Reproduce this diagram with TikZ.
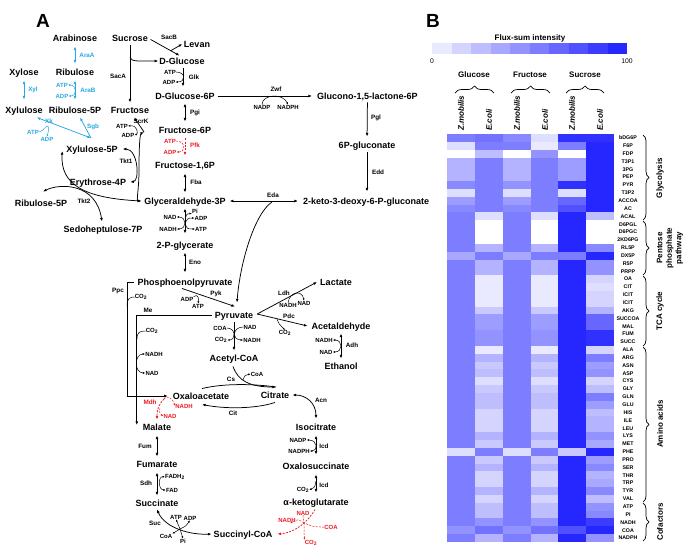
\documentclass[tikz,border=0pt]{standalone}
\usepackage{fontspec}
\setmainfont{Liberation Sans}
\usetikzlibrary{arrows.meta,calc,decorations.pathreplacing}
\definecolor{aq}{RGB}{41,168,224}
\definecolor{rd}{RGB}{236,28,36}
\definecolor{hb}{RGB}{38,38,255}
\begin{document}
\begin{tikzpicture}[x=1pt,y=-1pt,
 met/.style={font=\fontsize{9}{10}\selectfont\bfseries,inner sep=0pt,text height=6.5pt,text depth=0pt},
 enz/.style={font=\fontsize{6.3}{8}\selectfont\bfseries,inner sep=0pt},
 cof/.style={font=\fontsize{6}{7}\selectfont\bfseries,inner sep=0pt},
 rxn/.style={line width=0.75pt},
 fw/.style={rxn,-{Latex[length=3.6pt,width=2.8pt]}},
 bw/.style={rxn,{Latex[length=3.6pt,width=2.8pt]}-{Latex[length=3.6pt,width=2.8pt]}},
 sfw/.style={line width=0.5pt,-{Latex[length=2.4pt,width=2pt]}},
 sbw/.style={line width=0.5pt,{Latex[length=2.4pt,width=2pt]}-{Latex[length=2.4pt,width=2pt]}},
 sln/.style={line width=0.5pt},
 dsh/.style={dash pattern=on 2pt off 1.3pt},
 rowl/.style={font=\fontsize{5.3}{6}\selectfont\bfseries,inner sep=0pt},
 grp/.style={font=\fontsize{8}{9.5}\selectfont\bfseries,inner sep=0pt},
 colh/.style={font=\fontsize{8}{9}\selectfont\bfseries\itshape,inner sep=0pt},
 brc/.style={decorate,decoration={brace,amplitude=#1},line width=0.7pt},
 big/.style={font=\fontsize{19}{20}\selectfont\bfseries,inner sep=0pt}
]
\useasboundingbox (0,0) rectangle (685,547);
\fill[white] (0,0) rectangle (685,547);

%% ---------------- Panel A ----------------
\node[big] (labA) at (43,21) {A};

% pentose (blue) part
\node[met] (arab) at (75,38) {Arabinose};
\node[met] (rib) at (75,72) {Ribulose};
\node[met] (xyl) at (24,72) {Xylose};
\node[met] (xylu) at (24,110) {Xylulose};
\node[met] (ru5p) at (75,110) {Ribulose-5P};
\node[enz,aq] (araA) at (87,55) {AraA};
\node[enz,aq] (eXyl) at (33,90) {Xyl};
\node[enz,aq] (araB) at (88,90) {AraB};
\node[cof,aq] (atpB) at (62,85) {ATP};
\node[cof,aq] (adpB) at (62,96) {ADP};
\node[enz,aq] (xk) at (49,121) {Xk};
\node[cof,aq] (atpX) at (33,132) {ATP};
\node[cof,aq] (adpX) at (47,139) {ADP};
\node[enz,aq] (sgb) at (93,127) {Sgb};
\draw[bw,aq,shorten <=5pt,shorten >=5pt] (arab.south) -- (rib.north);
\draw[bw,aq,shorten <=5pt,shorten >=7pt] (xyl.south) -- (xylu.north);
\draw[bw,aq,shorten <=5pt,shorten >=7pt] (rib.south) -- (ru5p.north);
\draw[sbw,aq] (atpB.east) .. controls (77,85) and (77,96) .. (adpB.east);
\coordinate (xj) at (91,138);
\draw[bw,aq] ($(xylu.south east)+(-6,4)$) -- (xj);
\draw[fw,aq] (xj) -- ($(ru5p.south)+(5,4)$);
\draw[sfw,aq] (atpX.east) .. controls (44,131) and (46,125) .. (48,126) .. controls (49,129) .. (adpX.north);

% sucrose part
\node[met] (suc) at (130,38) {Sucrose};
\node[met] (lev) at (197,44) {Levan};
\node[met] (dglc) at (182,61) {D-Glucose};
\node[met] (fru) at (130,110) {Fructose};
\node[enz] (sacA) at (118,76) {SacA};
\node[enz] (sacB) at (169,37) {SacB};
\draw[fw,shorten <=4pt,shorten >=4pt] (suc.south) -- (fru.north);
\draw[fw] ($(suc.south)+(0,16)$) .. controls (131,62) and (140,61) .. ($(dglc.west)+(-1,0)$);
\draw[fw,shorten <=3pt,shorten >=4pt] (suc.east) -- ($(dglc.north)+(1,0)$);
\draw[fw] ($(suc.east)!0.66!(dglc.north)$) -- ($(lev.west)+(-1.5,0)$);

% glycolysis column
\node[met] (g6p) at (185,96) {D-Glucose-6P};
\node[cof] (atpG) at (170,72) {ATP};
\node[cof] (adpG) at (169,82) {ADP};
\node[enz] (glk) at (194,77) {Glk};
\draw[fw,shorten <=4pt,shorten >=6pt] ($(dglc.south)+(1,0)$) -- ($(g6p.north)+(-2,0)$);
\draw[sfw] (atpG.east) .. controls (186,72) and (186,82) .. (adpG.east);

\node[met,anchor=west] (glac) at (317,96) {Glucono-1,5-lactone-6P};
\draw[fw,shorten <=3pt,shorten >=5pt] (g6p.east) -- (glac.west);
\node[enz] (zwf) at (276,89) {Zwf};
\node[cof] (nadpZ) at (262,107) {NADP};
\node[cof] (nadphZ) at (288,107) {NADPH};
\draw[sfw] (nadpZ.north) .. controls (262,94) and (283,93) .. (nadphZ.north);

\node[met] (f6p) at (185,130) {Fructose-6P};
\node[enz] (pgi) at (195,113) {Pgi};
\draw[bw,shorten <=4pt,shorten >=5pt] (g6p.south) -- (f6p.north);

\node[met] (pg6) at (367,145) {6P-gluconate};
\draw[fw,shorten <=3pt,shorten >=5pt] (glac.south) -- (pg6.north);
\node[enz] (pgl) at (376,118) {Pgl};
\node[met,anchor=west] (kdpg) at (303,201) {2-keto-3-deoxy-6-P-gluconate};
\draw[fw,shorten <=4pt,shorten >=6pt] (pg6.south) -- (pg6.south |- kdpg.north);
\node[enz] (edd) at (378,172) {Edd};

\node[met] (f16p) at (185,165) {Fructose-1,6P};
\draw[fw,rd,dsh,shorten <=5pt,shorten >=6pt] (f6p.south) -- (f16p.north);
\node[cof,rd] (atpP) at (170,141) {ATP};
\node[cof,rd] (adpP) at (170,152) {ADP};
\node[enz,rd] (pfk) at (195,145) {Pfk};
\draw[sfw,rd,dsh] (atpP.east) .. controls (186,141) and (186,152) .. (adpP.east);

\node[met] (gap) at (185,201) {Glyceraldehyde-3P};
\draw[bw,shorten <=5pt,shorten >=5pt] (f16p.south) -- (gap.north);
\node[enz] (fba) at (196,182) {Fba};

\node[met] (p2g) at (185,245) {2-P-glycerate};
\draw[bw,shorten <=4pt,shorten >=8pt] (gap.south) -- (p2g.north);
\coordinate (gj) at (185,223);
\node[cof] (nadG) at (170,217) {NAD};
\node[cof] (nadhG) at (168,229) {NADH};
\node[cof] (piG) at (195,211) {Pi};
\node[cof] (adpGa) at (201,218) {ADP};
\node[cof] (atpGa) at (201,229) {ATP};
\draw[sbw] (nadG.east) .. controls (187,217) and (187,229) .. (nadhG.east);
\draw[sfw] (gj) .. controls (186,214) .. (piG.south west);
\draw[sfw] (gj) .. controls (188,218) .. (adpGa.west);
\draw[sfw] (gj) .. controls (187,229) .. (atpGa.west);

\node[met] (pep) at (185,282) {Phosphoenolpyruvate};
\draw[bw,shorten <=4pt,shorten >=6pt] (p2g.south) -- (pep.north);
\node[enz] (eno) at (195,262) {Eno};

% pentose phosphate / transketolase
\node[met] (x5p) at (92,149) {Xylulose-5P};
\node[met] (e4p) at (98,182) {Erythrose-4P};
\node[met] (ru5pb) at (41,203) {Ribulose-5P};
\node[met] (s7p) at (103,229) {Sedoheptulose-7P};
\node[enz] (tkt1) at (126,161) {Tkt1};
\node[enz] (tkt2) at (84,201) {Tkt2};
\coordinate (jf) at (144,132);
\coordinate (jg) at ($(gap.west)+(-3,0)$);
\draw[bw] ($(x5p.east)+(5,0)$) .. controls (138,149) and (140,181) .. ($(e4p.east)+(4,0)$);
\draw[bw] (jg) .. controls (136,201) and (139,190) .. (139,170) .. controls (139,145) and (140,134) .. (jf);
\draw[bw] ($(x5p.west)+(-4,2)$) .. controls (60,185) and (85,198) .. (jg);
\draw[bw] ($(ru5pb.north)+(2,-8)$) .. controls (60,183) and (96,183) .. ($(s7p.north)+(-1,-4)$);
\draw[fw] (jf) -- ($(fru.south east)+(-15,4)$);
\node[enz] (scrk) at (141,121) {ScrK};
\node[cof] (atpS) at (122,126) {ATP};
\node[cof] (adpS) at (128,135) {ADP};
\draw[sbw] (atpS.east) .. controls (138,125) and (138,134) .. (adpS.east);

% lower part
\node[met] (pyr) at (234,315) {Pyruvate};
\draw[fw] ($(pep.south)+(-3,3)$) -- ($(pyr.north)+(1,-5)$);
\node[enz] (pyk) at (216,294) {Pyk};
\node[cof] (adpK) at (187,299) {ADP};
\node[cof] (atpK) at (198,306) {ATP};
\draw[sfw] (adpK.north east) .. controls (198,293) and (199,299) .. (atpK.north);

\draw[bw,shorten <=4pt,shorten >=5pt] (gap.east) -- (kdpg.west);
\node[enz] (eda) at (273,195) {Eda};
\coordinate (ej) at (272,202);
\draw[fw] (ej) .. controls (255,213) and (240,262) .. ($(pyr.north)+(3,-9)$);

\node[met] (oaa) at (201,396) {Oxaloacetate};
\draw[fw] ($(pep.west)+(-4,0)$) -- (127,282) |- ($(oaa.west)+(-5,0)$);
\node[enz] (ppc) at (118,291) {Ppc};
\node[cof] (co2P) at (141,297) {CO\textsubscript{2}};
\draw[sln] (127,306) .. controls (127,298) and (130,297) .. (co2P.west);

\node[met] (mal) at (157,427) {Malate};
\draw[fw] ($(pyr.west)+(-3,0)$) -| ($(mal.west)+(-6,-2)$);
\node[enz] (me) at (148,310) {Me};
\node[cof] (co2M) at (152,331) {CO\textsubscript{2}};
\draw[sln] (137,339) .. controls (137,332) and (140,331) .. (co2M.west);
\node[cof] (nadhM) at (154,354) {NADH};
\node[cof] (nadM) at (152,373) {NAD};
\draw[sbw] (nadhM.west) .. controls (134,354) and (134,373) .. (nadM.west);

\node[met] (lac) at (336,282) {Lactate};
\node[met] (acald) at (341,326) {Acetaldehyde};
\node[met] (etoh) at (341,366) {Ethanol};
\coordinate (pj) at ($(pyr.east)+(4,-1)$);
\draw[fw] (pj) -- ($(lac.west)+(-3,0)$);
\draw[fw] (pj) -- ($(acald.west)+(-4,0)$);
\node[enz] (ldh) at (284,293) {Ldh};
\node[cof] (nadhL) at (288,305) {NADH};
\node[cof] (nadL) at (304,303) {NAD};
\draw[sfw] (nadhL.north) .. controls (290,291) and (302,290) .. (nadL.north);
\node[enz] (pdc) at (289,316) {Pdc};
\node[cof] (co2D) at (285,333) {CO\textsubscript{2}};
\draw[sfw] (277,319) .. controls (279,324) .. (co2D.north);
\draw[bw,shorten <=4pt,shorten >=4pt] (acald.south) -- (etoh.north);
\node[cof] (nadhA) at (324,340) {NADH};
\node[cof] (nadA) at (326,352) {NAD};
\draw[sbw] (nadhA.east) .. controls (343,340) and (343,352) .. (nadA.east);
\node[enz] (adh) at (352,345) {Adh};

\node[met] (accoa) at (234,358) {Acetyl-CoA};
\draw[fw,shorten <=4pt,shorten >=4pt] (pyr.south) -- (accoa.north);
\node[cof] (coaP) at (220,328) {COA};
\node[cof] (co2Pd) at (221,340) {CO\textsubscript{2}};
\node[cof] (nadPd) at (250,327) {NAD};
\node[cof] (nadhPd) at (252,340) {NADH};
\draw[sfw] (coaP.east) .. controls (236,328) and (236,340) .. (co2Pd.east);
\draw[sfw] (nadPd.west) .. controls (232,327) and (232,340) .. (nadhPd.west);

\node[met] (cit) at (275,395) {Citrate};
\coordinate (cj) at (276,387);
\draw[fw] ($(accoa.south)+(-1,5)$) .. controls (238,381) and (250,387) .. (cj);
\draw[rxn] ($(oaa.north)+(1,-4)$) .. controls (225,383) and (255,384) .. (cj);
\node[enz] (cs) at (231,379) {Cs};
\node[cof] (coaC) at (257,374) {CoA};
\draw[sfw] (243,380) .. controls (245,375) .. (coaC.west);
\draw[fw] ($(cit.south)+(0,4)$) .. controls (255,409) and (225,409) .. ($(oaa.south)+(1,5)$);
\node[enz] (citE) at (233,413) {Cit};

\node[met] (icit) at (316,427) {Isocitrate};
\draw[bw] ($(cit.east)+(3,0)$) .. controls (306,395) and (316,403) .. ($(icit.north)+(0,-5)$);
\node[enz] (acn) at (321,400) {Acn};

\node[enz,rd] (mdh) at (150,402) {Mdh};
\node[cof,rd] (nadhMd) at (184,406) {NADH};
\node[cof,rd] (nadMd) at (170,416) {NAD};
\coordinate (mj) at (164,399);
\draw[fw,rd,dsh] (mj) .. controls (158,405) and (157,410) .. ($(mal.north)+(0,-4)$);
\draw[sfw,rd,dsh] (mj) .. controls (166,395) and (172,397) .. (nadhMd.west);
\draw[sfw,rd,dsh] (159,408) .. controls (160,414) .. (nadMd.west);

\node[met] (fum) at (157,464) {Fumarate};
\draw[bw,shorten <=5pt,shorten >=4pt] (mal.south) -- (fum.north);
\node[enz] (fumE) at (145,446) {Fum};
\node[met] (succ) at (157,503) {Succinate};
\draw[bw,shorten <=5pt,shorten >=4pt] (fum.south) -- (succ.north);
\node[enz] (sdh) at (146,483) {Sdh};
\node[cof] (fadh) at (175,477) {FADH\textsubscript{2}};
\node[cof] (fad) at (172,490) {FAD};
\draw[sbw] (fadh.west) .. controls (158,476) and (158,490) .. (fad.west);

\node[met] (sucoa) at (243,534) {Succinyl-CoA};
\draw[bw] ($(succ.south)+(0,3)$) .. controls (165,528) and (190,535) .. ($(sucoa.west)+(-2,0)$);
\node[enz] (sucE) at (155,523) {Suc};
\coordinate (sj) at (180,529);
\node[cof] (atpU) at (176,517) {ATP};
\node[cof] (adpU) at (190,518) {ADP};
\node[cof] (coaU) at (166,536) {CoA};
\node[cof] (piU) at (183,541) {Pi};
\draw[sfw] (sj) -- (atpU.south);
\draw[sfw] (sj) .. controls (186,526) .. (adpU.south);
\draw[sfw] (sj) -- (coaU.north east);
\draw[sfw] (sj) -- (piU.north);

\node[met] (osuc) at (316,466) {Oxalosuccinate};
\draw[bw,shorten <=5pt,shorten >=8pt] (icit.south) -- (osuc.north);
\node[cof] (nadpI) at (298,440) {NADP};
\node[cof] (nadphI) at (299,451) {NADPH};
\draw[sbw] (nadpI.east) .. controls (318,440) and (318,451) .. (nadphI.east);
\node[enz] (icd1) at (324,446) {Icd};
\node[met] (akg) at (316,502) {α-ketoglutarate};
\draw[bw,shorten <=5pt,shorten >=6pt] (osuc.south) -- (akg.north);
\node[cof] (co2I) at (303,490) {CO\textsubscript{2}};
\draw[sfw] (316,481) .. controls (315,487) .. (co2I.east);
\node[enz] (icd2) at (324,485) {Icd};

\draw[fw,rd,dsh] ($(akg.south)+(-1,4)$) .. controls (306,525) and (292,533) .. ($(sucoa.east)+(5,0)$);
\coordinate (rj) at (304,523);
\node[cof,rd] (nadR) at (303,513) {NAD};
\node[cof,rd] (nadhR) at (287,520) {NADH};
\node[cof,rd] (coaR) at (331,527) {COA};
\node[cof,rd] (co2R) at (311,543) {CO\textsubscript{2}};
\draw[sln,rd,dsh] (nadR.south) -- (rj);
\draw[sfw,rd,dsh] (rj) .. controls (298,519) .. ($(nadhR.south)+(3,1)$);
\draw[sln,rd,dsh] (coaR.west) .. controls (314,527) .. (rj);
\draw[sfw,rd,dsh] (rj) .. controls (304,533) .. (co2R.north west);

%% ---------------- Panel B ----------------
\node[big] (labB) at (433,21) {B};
\node[grp] (fsi) at (530,38) {Flux-sum intensity};
\foreach \k in {0,...,9} {
  \pgfmathtruncatemacro{\p}{(\k+1)*10}
  \fill[hb!\p!white] ({432+\k*19.5},43) rectangle ++(19.6,11);
}
\node[font=\fontsize{6.8}{8}\selectfont,inner sep=0pt] (c0) at (432,61) {0};
\node[font=\fontsize{6.8}{8}\selectfont,inner sep=0pt] (c100) at (627,61) {100};

\node[grp] (gGlc) at (474,75) {Glucose};
\node[grp] (gFru) at (530,75) {Fructose};
\node[grp] (gSuc) at (585,75) {Sucrose};
\draw[brc=7pt] (455,93) -- (494,93);
\draw[brc=7pt] (511,93) -- (550,93);
\draw[brc=7pt] (566,93) -- (604,93);
\foreach \x/\t [count=\c] in {461/Z.mobilis,489/E.coli,517/Z.mobilis,545/E.coli,572/Z.mobilis,600/E.coli}
  \node[colh,rotate=90,anchor=west] (ch\c) at (\x,131) {\t};

\foreach \nm/\a/\b/\c/\d/\e/\f [count=\i] in {
 bDG6P/60/65/55/15/95/95, F6P/15/60/60/10/60/100, FDP/0/30/0/50/0/100,
 T3P1/35/60/35/60/45/100, 3PG/35/60/35/60/45/100, PEP/35/60/35/60/45/100,
 PYR/55/60/50/60/95/100, T3P2/15/60/15/60/15/100, ACCOA/45/60/45/60/70/100,
 AC/55/60/55/60/80/100, ACAL/60/15/60/15/100/30,
 D6PGL/60/0/60/0/100/0, D6PGC/60/0/60/0/100/0, 2KD6PG/60/0/60/0/100/0,
 RL5P/60/35/60/35/100/55, DX5P/40/60/40/60/60/100, R5P/60/35/60/35/100/50,
 PRPP/60/35/60/35/100/50,
 OA/60/10/60/10/100/20, CIT/60/10/60/10/100/15, ICIT/60/10/60/10/100/20,
 ICIT/60/10/60/10/100/20, AKG/60/25/60/25/100/35, SUCCOA/60/45/60/45/100/70,
 MAL/60/45/60/45/100/70, FUM/60/50/60/50/100/95, SUCC/60/50/60/50/100/95,
 ALA/60/10/60/10/100/20, ARG/60/35/60/35/100/60, ASN/60/25/60/25/100/45,
 ASP/60/30/60/30/100/50, CYS/60/15/60/15/100/20, GLY/60/25/60/25/100/30,
 GLN/60/30/60/30/100/60, GLU/60/30/60/30/100/45, HIS/60/20/60/20/100/30,
 ILE/60/20/60/20/100/35, LEU/60/20/60/20/100/35, LYS/60/35/60/35/100/50,
 MET/60/25/60/25/100/40, PHE/15/60/15/60/25/100, PRO/60/25/60/25/100/45,
 SER/60/35/60/35/100/55, THR/60/20/60/20/100/35, TRP/60/20/60/20/100/40,
 TYR/60/35/60/35/100/55, VAL/60/20/60/20/100/30,
 ATP/60/30/60/30/100/50, PI/60/30/60/30/100/55, NADH/60/50/60/50/100/90,
 COA/50/65/50/65/80/100, NADPH/60/35/60/35/100/50} {
  \pgfmathsetmacro{\yt}{134+(\i-1)*7.846}
  \foreach \v [count=\j] in {\a,\b,\c,\d,\e,\f} {
    \fill[hb!\v!white] ({447+(\j-1)*27.833},\yt) rectangle ++(27.9,7.9);
  }
  \node[rowl] (r\i) at (628,{\yt+3.923}) {\nm};
}

\draw[brc=6pt] (643,135) -- (643,220);
\draw[brc=6pt] (643,221) -- (643,275);
\draw[brc=6pt] (643,276) -- (643,346);
\draw[brc=6pt] (643,347) -- (643,502);
\draw[brc=6pt] (643,503) -- (643,541);
\node[grp,rotate=90] (bGly) at (660,178) {Glycolysis};
\node[grp,rotate=90,align=center] (bPPP) at (670,248) {Pentose\\phosphate\\pathway};
\node[grp,rotate=90] (bTCA) at (660,311) {TCA cycle};
\node[grp,rotate=90] (bAA) at (660,424) {Amino acids};
\node[grp,rotate=90] (bCof) at (660,522) {Cofactors};
\end{tikzpicture}
\end{document}
